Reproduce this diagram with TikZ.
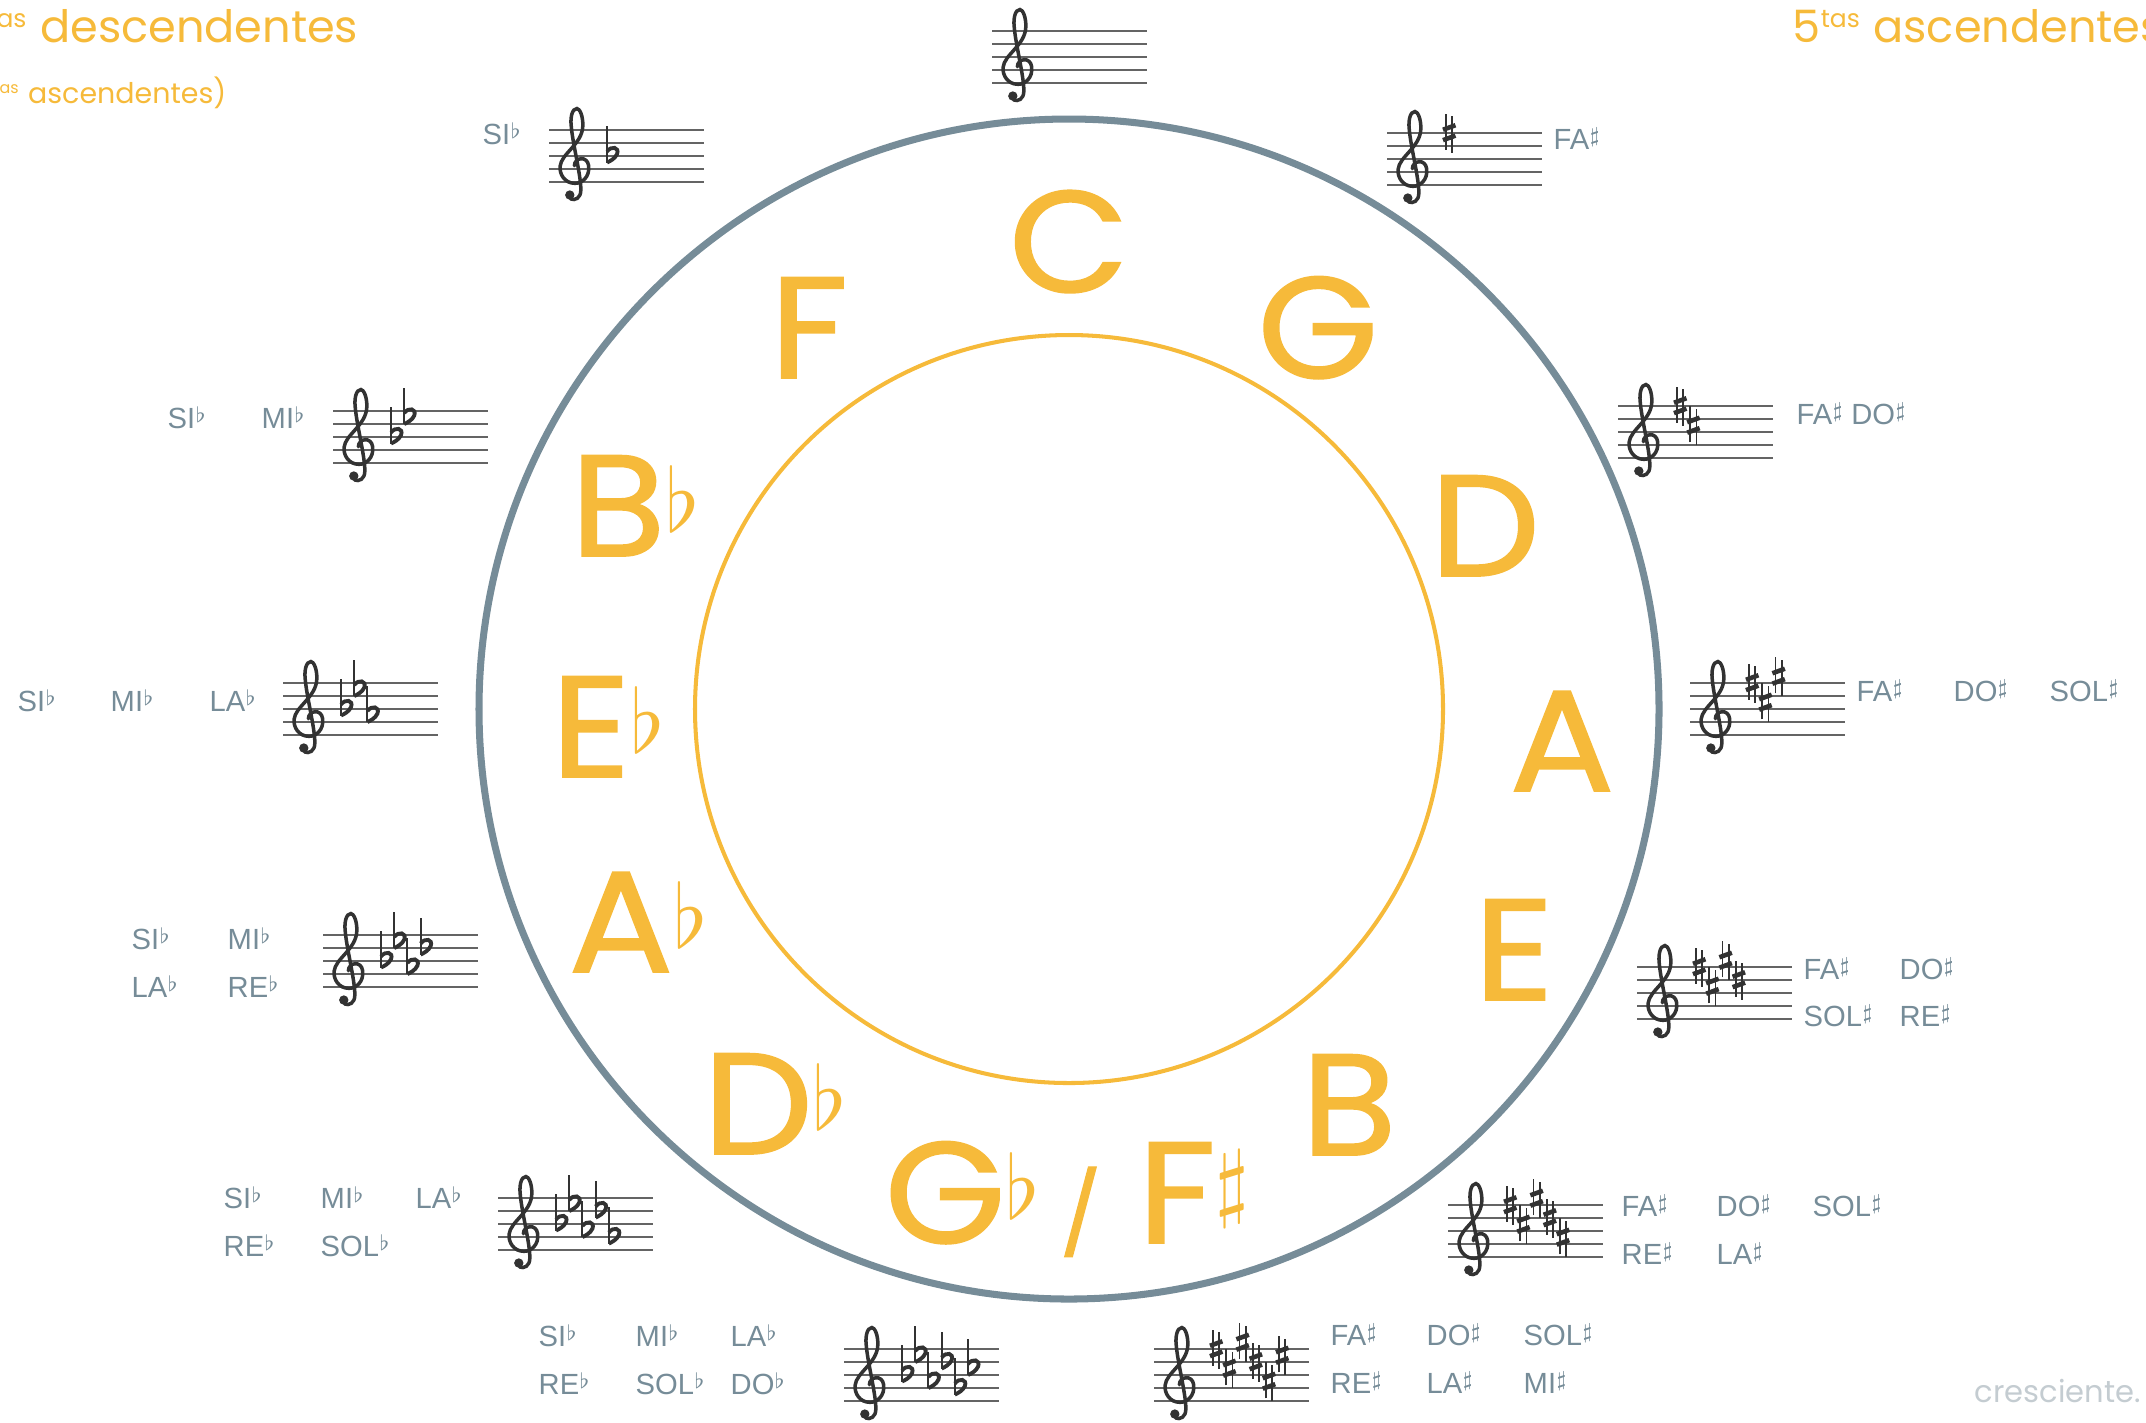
\documentclass[tikz,border=0pt]{standalone}
\usepackage{fontspec}
\usepackage{graphicx}
\setmainfont{Liberation Sans}
\newfontfamily\popfont{Poppins}
\newfontfamily\keyfont{Poppins}[FakeBold=1.2,FakeStretch=1.08]
\definecolor{sun}{RGB}{246,186,58}
\definecolor{slate}{RGB}{118,140,152}
\definecolor{mist}{RGB}{196,204,209}
\definecolor{ink}{RGB}{50,50,50}
\definecolor{rule}{RGB}{100,100,100}
\newcommand\flt{\raisebox{1.6pt}{\fontsize{6.2}{6}\selectfont$\flat$}}
\newcommand\shp{\raisebox{2.1pt}{\fontsize{6.2}{6}\selectfont$\sharp$}}
\newcommand\tas{\textsuperscript{\scalebox{0.8}{tas}}}
\newcommand\kflat{\raisebox{0.25cm}{\scalebox{2.5}{\fontsize{10}{10}\selectfont$\flat$}}}
\newcommand\ksharp{\raisebox{0.33cm}{\scalebox{2.45}{\fontsize{10}{10}\selectfont$\sharp$}}}

\tikzset{
  keyname/.style={text=sun,font=\keyfont\fontsize{41}{41}\selectfont,anchor=base,inner sep=0pt},
  notename/.style={text=slate,font=\fontsize{8.3}{10}\selectfont,anchor=base west,inner sep=0pt},
  headline/.style={text=sun,font=\popfont\fontsize{12.7}{15}\selectfont,inner sep=0pt},
  staffline/.style={rule,line width=0.45pt},
  % treble clef, origin on the bottom line
  gclef/.pic={
    \begin{scope}[x=0.13cm,y=0.13cm]
      \draw[ink,line width=1pt,line cap=round]
        (-0.05,1.25) .. controls (-0.05,1.9) and (0.95,2.05) .. (1.05,1.25)
        .. controls (1.15,0.4) and (0.55,-0.1) .. (0,-0.1)
        .. controls (-0.8,-0.1) and (-1.2,0.6) .. (-1.15,1.2)
        .. controls (-1.05,2.2) and (0.55,2.9) .. (0.6,4.3)
        .. controls (0.63,5.1) and (0.35,5.65) .. (0.15,5.65)
        .. controls (-0.25,5.65) and (-0.35,4.9) .. (-0.3,4.4)
        .. controls (-0.2,3) and (0.45,0.6) .. (0.45,-0.6)
        .. controls (0.45,-1.25) and (0,-1.45) .. (-0.35,-1.3);
      \fill[ink] (-0.4,-1) circle (0.36);
    \end{scope}
  },
  sharpsign/.pic={
    \begin{scope}[x=0.13cm,y=0.13cm]
      \draw[ink,line width=0.5pt] (-0.24,-1.3) -- (-0.24,1.5) (0.24,-1.5) -- (0.24,1.3);
      \draw[ink,line width=1.3pt] (-0.48,-0.55) -- (0.48,-0.2) (-0.48,0.25) -- (0.48,0.6);
    \end{scope}
  },
  flatsign/.pic={
    \begin{scope}[x=0.13cm,y=0.13cm]
      \draw[ink,line width=0.55pt] (-0.32,-0.5) -- (-0.32,2.3);
      \draw[ink,line width=1.1pt] (-0.32,0.35) .. controls (0,0.8) and (0.65,0.7) .. (0.45,0.15)
        .. controls (0.3,-0.2) and (-0.1,-0.4) .. (-0.32,-0.5);
    \end{scope}
  },
  stave/.pic={
    \foreach \k in {0,...,4} \draw[staffline] (0,-0.13*\k) -- (1.55,-0.13*\k);
    \pic at (0.26,-0.52) {gclef};
  }
}

\begin{document}
\begin{tikzpicture}
  \useasboundingbox (0,0) rectangle (21.46,-14.22);
  \clip (0,0) rectangle (21.46,-14.22);

  % titles
  \node[headline,anchor=base east] (descT) at (3.59,-0.427) {5\tas{} descendentes};
  \node[headline,font=\popfont\fontsize{8.1}{10}\selectfont,anchor=base east] (ascL) at (2.27,-1.03) {(4\tas{} ascendentes)};
  \node[headline,anchor=base west] (ascT) at (17.92,-0.427) {5\tas{} ascendentes};
  \node[text=mist,font=\popfont\fontsize{8.7}{10}\selectfont,anchor=base west,inner sep=0pt] (web) at (19.74,-14.02) {cresciente.};

  % the two rings
  \coordinate (o) at (10.69,-7.09);
  \draw[slate,line width=2pt] (o) circle (5.90);
  \draw[sun,line width=1.15pt] (o) circle (3.74);

  % keys
  \foreach \x/\y/\t [count=\i] in {10.69/-2.92/C, 13.18/-3.78/G, 14.85/-5.76/D, 15.62/-7.91/A,
      15.14/-10.00/E, 13.49/-11.55/B, 8.09/-3.78/F, 6.35/-5.56/B\kflat, 6.08/-7.77/E\kflat,
      6.38/-9.72/A\kflat, 7.75/-11.54/D\kflat}
    \node[keyname] (key\i) at (\x,\y) {\t};
  \node[keyname,anchor=base west] (keyGF) at (8.84,-12.43)
    {G\kflat\hspace{0.2cm}{\fontsize{23}{23}\selectfont/}\hspace{0.36cm}F\ksharp};

  % staves
  \foreach \x/\y in {9.92/-0.31, 13.87/-1.33, 16.18/-4.06, 16.90/-6.83, 16.37/-9.67, 14.48/-12.05,
      11.54/-13.49, 5.49/-1.30, 3.33/-4.11, 2.83/-6.83, 3.23/-9.35, 4.98/-11.98, 8.44/-13.49}
    \pic at (\x,\y) {stave};
  \foreach \x/\y/\nk in {13.87/-1.33/1, 16.18/-4.06/2, 16.90/-6.83/3, 16.37/-9.67/4, 14.48/-12.05/5, 11.54/-13.49/6}
    \foreach \st [count=\i] in {8,5,9,6,3,7}
      {\ifnum\i>\nk\relax\else\pic at (\x+0.49+\i*0.132,\y-0.52+\st*0.065) {sharpsign};\fi}
  \foreach \x/\y/\nk in {5.49/-1.30/1, 3.33/-4.11/2, 2.83/-6.83/3, 3.23/-9.35/4, 4.98/-11.98/5, 8.44/-13.49/6}
    \foreach \st [count=\i] in {4,7,3,6,2,5}
      {\ifnum\i>\nk\relax\else\pic at (\x+0.49+\i*0.132,\y-0.52+\st*0.065) {flatsign};\fi}

  % note names
  \foreach \x/\y/\t [count=\i] in {4.82/-1.445/SI\flt,
      1.67/-4.285/SI\flt, 2.61/-4.285/MI\flt,
      0.17/-7.115/SI\flt, 1.10/-7.115/MI\flt, 2.09/-7.115/LA\flt,
      1.31/-9.495/SI\flt, 2.27/-9.495/MI\flt, 1.31/-9.975/LA\flt, 2.27/-9.975/RE\flt,
      2.23/-12.085/SI\flt, 3.20/-12.085/MI\flt, 4.15/-12.085/LA\flt, 2.23/-12.565/RE\flt, 3.20/-12.565/SOL\flt,
      5.38/-13.465/SI\flt, 6.35/-13.465/MI\flt, 7.30/-13.465/LA\flt, 5.38/-13.945/RE\flt, 6.35/-13.945/SOL\flt, 7.30/-13.945/DO\flt}
    \node[notename] (fl\i) at (\x,\y) {\t};
  \foreach \x/\y/\t [count=\i] in {15.53/-1.495/FA\shp,
      17.96/-4.245/{FA\shp{} DO\shp},
      18.56/-7.015/FA\shp, 19.53/-7.015/DO\shp, 20.49/-7.015/SOL\shp,
      18.03/-9.795/FA\shp, 18.99/-9.795/DO\shp, 18.03/-10.265/SOL\shp, 18.99/-10.265/RE\shp,
      16.21/-12.165/FA\shp, 17.16/-12.165/DO\shp, 18.12/-12.165/SOL\shp, 16.21/-12.645/RE\shp, 17.16/-12.645/LA\shp,
      13.30/-13.455/FA\shp, 14.26/-13.455/DO\shp, 15.23/-13.455/SOL\shp, 13.30/-13.935/RE\shp, 14.26/-13.935/LA\shp, 15.23/-13.935/MI\shp}
    \node[notename] (sh\i) at (\x,\y) {\t};
\end{tikzpicture}
\end{document}
